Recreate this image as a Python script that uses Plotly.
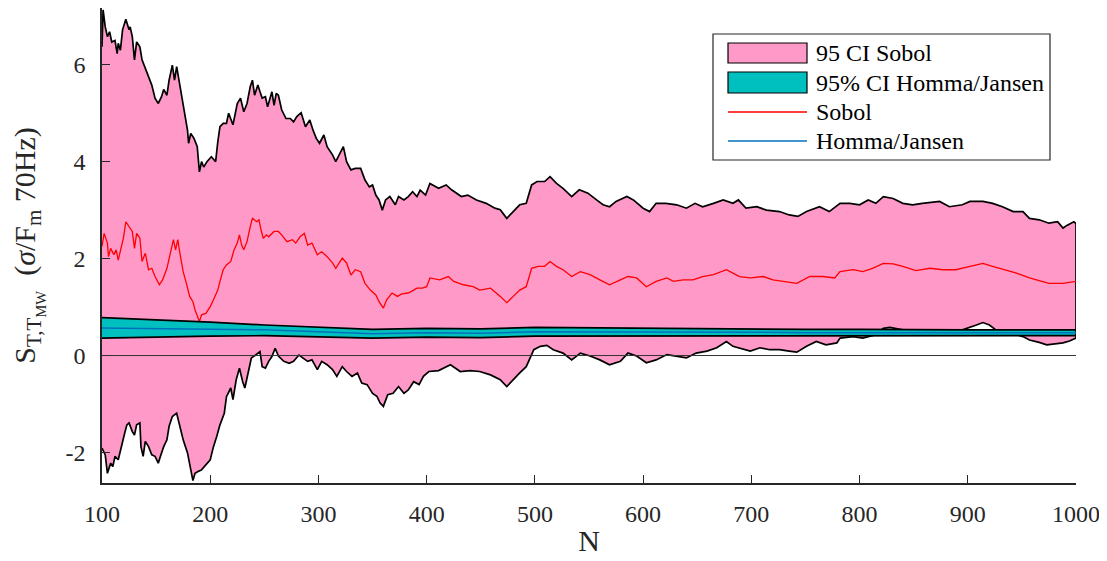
import plotly.graph_objects as go

# ---------------- data ----------------
upper_N = [100, 101, 103, 105, 107, 109, 112, 114, 115, 117, 119, 122, 125, 126, 128, 130, 132, 135, 137, 140,
           143, 146, 149, 152, 155, 157, 160, 162, 165, 167, 169, 172, 175, 177, 179, 180, 182, 185, 188, 190,
           192, 194, 197, 201, 205, 207, 209, 212, 215, 217, 219, 221, 225, 228, 231, 234, 237, 239, 241, 244,
           246, 248, 251, 253, 257, 259, 261, 263, 266, 270, 274, 277, 280, 284, 288, 292, 295, 298, 301, 305,
           308, 313, 316, 319, 323, 326, 330, 334, 339, 343, 347, 350, 353, 356, 359, 362, 366, 371, 374, 379,
           383, 387, 391, 394, 399, 403, 411, 418, 423, 432, 438, 446, 455, 463,
           468, 474, 480, 486, 492, 497, 502, 509, 514, 520, 526, 534, 541, 549, 557, 563, 569, 575, 585, 591,
           600, 606, 612, 621, 631, 640, 648, 655, 665, 674, 683, 688, 695, 705, 714, 726, 735, 743, 751, 763,
           772, 782, 791, 800, 808, 815, 822, 831, 840, 849, 858, 874, 883, 895, 902, 914, 923, 932, 942, 951,
           957, 966, 975, 983, 988, 992, 998, 1000]
upper_S = [6.37, 7.13, 6.78, 6.58, 6.68, 6.47, 6.50, 6.23, 6.44, 6.30, 6.72, 6.94, 6.72, 6.78, 6.58, 6.10, 6.47, 6.37, 6.10, 5.93,
           5.75, 5.58, 5.31, 5.20, 5.34, 5.49, 5.37, 5.68, 5.99, 5.68, 5.96, 5.58, 5.13, 4.93, 4.65, 4.38, 4.58, 4.48, 4.31, 3.79,
           4.00, 3.89, 4.00, 4.10, 4.00, 4.41, 4.72, 4.79, 4.79, 5.00, 4.86, 4.76, 5.20, 5.31, 5.03, 5.20, 5.55, 5.68, 5.37, 5.58,
           5.44, 5.31, 5.34, 5.13, 5.44, 5.16, 5.41, 5.37, 5.07, 4.89, 4.89, 4.82, 4.93, 5.01, 4.72, 4.86, 4.65, 4.48, 4.38, 4.55,
           4.31, 4.14, 4.00, 4.14, 4.31, 4.00, 3.83, 3.86, 3.86, 3.62, 3.48, 3.52, 3.31, 3.21, 3.00, 3.21, 3.28, 3.11, 3.28, 3.21,
           3.28, 3.38, 3.28, 3.41, 3.31, 3.55, 3.45, 3.52, 3.42, 3.28, 3.31, 3.21, 3.14, 3.04,
           3.01, 2.83, 2.97, 3.11, 3.14, 3.52, 3.59, 3.59, 3.69, 3.55, 3.45, 3.28, 3.42, 3.35, 3.21, 3.11, 3.07, 3.18, 3.28, 3.21,
           3.04, 2.97, 3.14, 3.14, 3.11, 3.04, 3.14, 3.07, 3.14, 3.21, 3.14, 3.21, 3.04, 3.07, 3.00, 2.97, 2.90, 2.87, 2.97, 3.07,
           2.97, 3.14, 3.14, 3.11, 3.21, 3.14, 3.28, 3.24, 3.14, 3.11, 3.14, 3.18, 3.07, 3.11, 3.18, 3.18, 3.14, 3.07, 2.97, 2.97,
           2.83, 2.80, 2.73, 2.76, 2.63, 2.69, 2.76, 2.72]

lower_N = [100, 103, 105, 108, 110, 112, 115, 118, 121, 123, 125, 128, 130, 132, 135, 136, 138, 140, 143, 146,
           149, 152, 154, 157, 160, 162, 165, 169, 172, 175, 179, 181, 184, 186, 189, 192, 196, 200, 203, 206,
           209, 213, 215, 219, 221, 224, 227, 230, 232, 235, 238, 242, 246, 248, 251, 254, 257, 260, 263, 268,
           273, 277, 282, 285, 290, 294, 299, 303, 308, 313, 317, 322, 326, 331, 336, 340, 345, 350, 354, 357,
           360, 364, 369, 374, 379, 383, 388, 393, 397, 402, 411, 422, 431, 440, 449, 459, 468, 474, 480, 486,
           492, 499, 505, 511, 517, 526, 534,
           542, 551, 560, 569, 579, 586, 594, 603, 612, 622, 631, 640, 649, 659, 668, 677, 683, 689, 699, 708,
           717, 726, 735, 742, 751, 760, 769, 779, 782, 794, 803, 815, 822, 828, 840, 852, 865, 877, 895, 908,
           914, 920, 926, 935, 945, 951, 957, 966, 973, 980, 988, 994, 1000]
lower_S = [-1.91, -2.05, -2.43, -2.22, -2.29, -2.08, -2.15, -1.88, -1.60, -1.43, -1.39, -1.57, -1.64, -1.43, -1.39, -1.88, -2.08, -1.77, -1.88, -2.05,
           -2.08, -2.22, -2.08, -1.88, -1.74, -1.46, -1.26, -1.19, -1.43, -1.74, -2.01, -2.22, -2.58, -2.43, -2.39, -2.36, -2.25, -2.15, -1.88, -1.67,
           -1.43, -1.19, -0.85, -0.67, -0.91, -0.50, -0.26, -0.54, -0.67, -0.36, -0.05, 0.01, 0.08, -0.23, -0.26, -0.12, -0.02, 0.15, -0.01, -0.12,
           -0.16, -0.12, 0.01, -0.05, -0.12, -0.09, -0.29, -0.12, -0.19, -0.29, -0.43, -0.23, -0.33, -0.43, -0.36, -0.57, -0.60, -0.78, -0.84, -0.98,
           -1.05, -0.81, -0.78, -0.64, -0.78, -0.71, -0.54, -0.60, -0.43, -0.33, -0.31, -0.19, -0.33, -0.31, -0.33, -0.40, -0.50, -0.64, -0.50, -0.36,
           -0.23, 0.12, 0.19, 0.21, 0.12, 0.05, -0.09,
           0.05, -0.01, -0.09, -0.19, -0.12, 0.05, -0.01, -0.15, -0.09, 0.02, -0.01, -0.05, 0.05, 0.09, 0.16, 0.29, 0.19, 0.16, 0.09, 0.16,
           0.12, 0.12, 0.09, 0.07, 0.19, 0.29, 0.22, 0.26, 0.36, 0.39, 0.36, 0.43, 0.56, 0.58, 0.53, 0.46, 0.47, 0.47, 0.53, 0.63,
           0.68, 0.63, 0.53, 0.53, 0.43, 0.39, 0.32, 0.27, 0.22, 0.24, 0.26, 0.30, 0.36]

sobol_N = [100, 102, 105, 106, 108, 111, 113, 115, 118, 120, 122, 126, 128, 130, 132, 135, 137, 140, 143, 146,
           149, 153, 156, 160, 163, 166, 168, 170, 172, 175, 178, 181, 184, 186, 190, 192, 196, 200, 203, 207,
           209, 212, 215, 219, 222, 225, 227, 229, 231, 234, 237, 239, 243, 245, 247, 249, 252, 254, 259, 263,
           266, 271, 276, 279, 283, 287, 290, 294, 299, 303, 308, 313, 316, 322, 326, 330, 334, 339, 343, 348,
           353, 356, 360, 363, 368, 373, 377, 383, 388, 391, 396, 400, 403, 412, 420, 425, 434, 443, 449, 459,
           468, 474, 480, 486, 492, 497,
           503, 509, 514, 520, 526, 534, 542, 551, 560, 569, 579, 586, 594, 603, 612, 622, 628, 637, 646, 655,
           665, 677, 683, 689, 699, 711, 720, 732, 742, 754, 766, 777, 782, 794, 803, 812, 822, 831, 840, 852,
           865, 877, 889, 902, 914, 923, 935, 945, 957, 969, 975, 988, 1000]
sobol_S = [2.25, 2.52, 2.32, 2.04, 2.21, 2.08, 2.18, 1.97, 2.25, 2.45, 2.76, 2.63, 2.56, 2.21, 2.52, 2.42, 1.94, 2.11, 1.77, 1.80,
           1.63, 1.46, 1.56, 1.80, 2.11, 2.39, 2.18, 2.39, 2.11, 1.73, 1.49, 1.22, 1.11, 0.94, 0.70, 0.84, 0.87, 1.01, 1.15, 1.35,
           1.53, 1.77, 1.87, 1.94, 2.18, 2.32, 2.49, 2.28, 2.18, 2.35, 2.66, 2.83, 2.76, 2.80, 2.59, 2.42, 2.49, 2.45, 2.56, 2.56,
           2.49, 2.35, 2.39, 2.32, 2.45, 2.52, 2.28, 2.32, 2.08, 2.14, 2.04, 1.91, 1.80, 2.01, 1.91, 1.66, 1.77, 1.73, 1.49, 1.35,
           1.25, 1.11, 0.98, 1.15, 1.29, 1.22, 1.27, 1.29, 1.35, 1.39, 1.39, 1.42, 1.60, 1.56, 1.63, 1.53, 1.46, 1.42, 1.35, 1.39,
           1.22, 1.09, 1.22, 1.35, 1.42, 1.80,
           1.84, 1.84, 1.94, 1.84, 1.77, 1.63, 1.73, 1.67, 1.56, 1.46, 1.56, 1.63, 1.60, 1.42, 1.53, 1.60, 1.53, 1.56, 1.56, 1.63,
           1.67, 1.77, 1.70, 1.63, 1.60, 1.63, 1.56, 1.53, 1.49, 1.63, 1.63, 1.60, 1.73, 1.77, 1.73, 1.80, 1.90, 1.89, 1.84, 1.75,
           1.80, 1.77, 1.77, 1.84, 1.90, 1.84, 1.77, 1.70, 1.60, 1.53, 1.49, 1.49, 1.53]

homma_N = [100, 125, 150, 175, 200, 250, 300, 350, 400, 450, 500, 550, 600, 650, 700, 750, 800, 850, 900, 950, 1000]
homma_up = [0.78, 0.76, 0.74, 0.71, 0.69, 0.63, 0.59, 0.54, 0.56, 0.55, 0.58, 0.57, 0.56, 0.55, 0.55, 0.54, 0.54, 0.53, 0.53, 0.53, 0.53]
homma_lo = [0.36, 0.37, 0.38, 0.39, 0.40, 0.41, 0.39, 0.36, 0.38, 0.37, 0.40, 0.40, 0.40, 0.40, 0.40, 0.40, 0.41, 0.41, 0.41, 0.41, 0.41]
homma_S = [0.57, 0.56, 0.56, 0.55, 0.54, 0.53, 0.49, 0.45, 0.47, 0.46, 0.49, 0.49, 0.48, 0.48, 0.48, 0.47, 0.47, 0.47, 0.47, 0.47, 0.47]

x_ticks = [100, 200, 300, 400, 500, 600, 700, 800, 900, 1000]
y_ticks = [-2, 0, 2, 4, 6]
legend_labels = ["95 CI Sobol", "95% CI Homma/Jansen", "Sobol", "Homma/Jansen"]

# ---------------- styling ----------------
PINK = "#FF99C8"
TEAL = "#00BFBF"
RED = "#FF0000"
BLUE = "#0072BD"
AX = "#262626"
FONT = "Liberation Serif"

# the page body has an 8 px margin, so the figure starts at (8, 8) in the window
OFF = 8
W, H = 1107 - OFF, 561 - OFF
# plot area in window pixels: left 102, right 1076, top 8, bottom 483
ML, MR, MT, MB = 102 - OFF, 1107 - 1076, 8 - OFF, 561 - 483
PW, PH = W - ML - MR, H - MT - MB


def px(x):  # window x pixel -> paper x
    return (x - OFF - ML) / PW


def py(y):  # window y pixel -> paper y
    return (H - MB - (y - OFF)) / PH


fig = go.Figure()

# Sobol confidence band (polygon upper -> reversed lower)
fig.add_trace(go.Scatter(
    x=upper_N + lower_N[::-1], y=upper_S + lower_S[::-1],
    fill="toself", fillcolor=PINK, mode="lines",
    line=dict(color="black", width=1.7), showlegend=False, hoverinfo="skip"))

fig.add_trace(go.Scatter(x=sobol_N, y=sobol_S, mode="lines",
                         line=dict(color=RED, width=1.3), showlegend=False))

fig.add_trace(go.Scatter(
    x=homma_N + homma_N[::-1], y=homma_up + homma_lo[::-1],
    fill="toself", fillcolor=TEAL, mode="lines",
    line=dict(color="black", width=1.7), showlegend=False, hoverinfo="skip"))

fig.add_trace(go.Scatter(x=homma_N, y=homma_S, mode="lines",
                         line=dict(color=BLUE, width=1.5), showlegend=False))

fig.add_hline(y=0, line=dict(color="#333333", width=1), layer="above")

# ---------------- custom legend ----------------
shapes = []
annotations = []
shapes.append(dict(type="rect", xref="paper", yref="paper",
                   x0=px(713), x1=px(1050), y0=py(160), y1=py(34),
                   line=dict(color=AX, width=1.2), fillcolor="white", layer="above"))
shapes.append(dict(type="rect", xref="paper", yref="paper",
                   x0=px(728), x1=px(807), y0=py(63), y1=py(43),
                   line=dict(color="black", width=1.2), fillcolor=PINK, layer="above"))
shapes.append(dict(type="rect", xref="paper", yref="paper",
                   x0=px(728), x1=px(807), y0=py(93), y1=py(72),
                   line=dict(color="black", width=1.2), fillcolor=TEAL, layer="above"))
shapes.append(dict(type="line", xref="paper", yref="paper",
                   x0=px(728), x1=px(807), y0=py(112), y1=py(112),
                   line=dict(color=RED, width=1.3), layer="above"))
shapes.append(dict(type="line", xref="paper", yref="paper",
                   x0=px(728), x1=px(807), y0=py(141), y1=py(141),
                   line=dict(color=BLUE, width=1.5), layer="above"))
for lab, yc in zip(legend_labels, [53, 83, 112, 141]):
    annotations.append(dict(text=lab, xref="paper", yref="paper", x=px(814), y=py(yc),
                            xanchor="left", yanchor="middle", showarrow=False,
                            font=dict(family=FONT, size=24, color="black")))

for s in shapes:
    fig.add_shape(**s)

fig.update_layout(
    width=W, height=H,
    margin=dict(l=ML, r=MR, t=MT, b=MB, autoexpand=False),
    paper_bgcolor="white", plot_bgcolor="white",
    font=dict(family=FONT, color=AX),
    annotations=annotations,
    showlegend=False,
    xaxis=dict(range=[100, 1000], tickvals=x_ticks, ticktext=[str(v) for v in x_ticks],
               ticks="inside", ticklen=8, tickwidth=1.2, tickcolor=AX, automargin=False,
               showline=True, linecolor=AX, linewidth=1.5, showgrid=False, zeroline=False,
               tickfont=dict(family=FONT, size=24, color=AX), ticklabelstandoff=8,
               title=dict(text="N", font=dict(family=FONT, size=30, color=AX), standoff=4)),
    yaxis=dict(range=[-2.63, 7.17], tickvals=y_ticks, ticktext=[str(v) for v in y_ticks],
               ticks="inside", ticklen=8, tickwidth=1.2, tickcolor=AX, automargin=False,
               showline=True, linecolor=AX, linewidth=1.5, showgrid=False, zeroline=False,
               tickfont=dict(family=FONT, size=24, color=AX), ticklabelstandoff=10,
               title=dict(text="S<sub>T,T<sub>MW</sub></sub>  (<i>σ</i>/F<sub>m</sub> 70Hz)",
                          font=dict(family=FONT, size=30, color=AX), standoff=22)),
)

fig.write_html("out.html")
